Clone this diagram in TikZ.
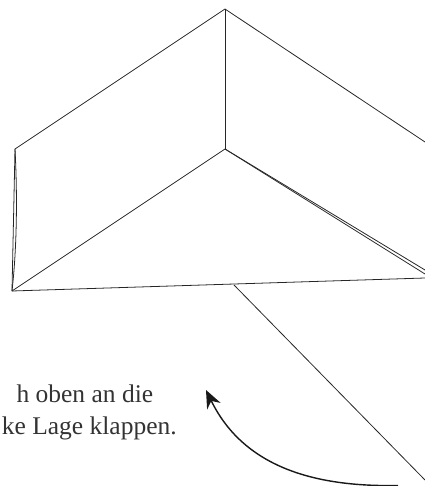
\documentclass[tikz,border=0pt]{standalone}
\usepackage{fontspec}
\setmainfont{Liberation Serif}
\usepackage{xcolor}
\usetikzlibrary{arrows.meta}
\tikzset{
    foldline/.style={draw=black!85, line width=0.45pt},
    foldarrow/.style={draw=black!90, line width=0.8pt, -{Stealth[length=0.36cm, width=0.3cm]}},
    foldtext/.style={anchor=base east, text=black!80, font=\fontsize{14.5}{18}\selectfont, inner sep=0pt}
}

\begin{document}
\begin{tikzpicture}
    \useasboundingbox (0, 0) rectangle (8.5, 9.72);

    % Box corners
    \coordinate (top) at (4.5, 9.54);
    \coordinate (centre) at (4.5, 6.74);
    \coordinate (upperleft) at (0.3, 6.74);
    \coordinate (lowerleft) at (0.24, 3.9);
    \coordinate (upperright) at (8.5, 6.88);
    \coordinate (lowerright) at (8.5, 4.16);
    \coordinate (innerrighta) at (8.5, 4.32);
    \coordinate (innerrightb) at (8.5, 4.24);

    % Box
    \draw[foldline] (upperright) -- (top) -- (upperleft) -- (lowerleft) -- (lowerright);
    \draw[foldline] (top) -- (centre);
    \draw[foldline] (lowerleft) -- (centre);
    \draw[foldline] (centre) -- (innerrighta);
    \draw[foldline] (centre) -- (innerrightb);
    \draw[foldline] (upperleft) .. controls (0.36, 5.6) and (0.32, 4.6) .. (lowerleft);

    % Flap
    \coordinate (flapstart) at (4.68, 4.02);
    \coordinate (flapend) at (8.5, 0.12);
    \draw[foldline] (flapstart) -- (flapend);

    % Arrow
    \coordinate (arrowstart) at (7.96, 0.01);
    \coordinate (arrowtip) at (4.12, 1.92);
    \draw[foldarrow] (arrowstart) .. controls (6.4, -0.02) and (4.9, 0.32) .. (arrowtip);

    % Text
    \node[foldtext] (lineone) at (3.07, 1.66) {h oben an die};
    \node[foldtext] (linetwo) at (3.54, 1.04) {ke Lage klappen.};
\end{tikzpicture}
\end{document}
